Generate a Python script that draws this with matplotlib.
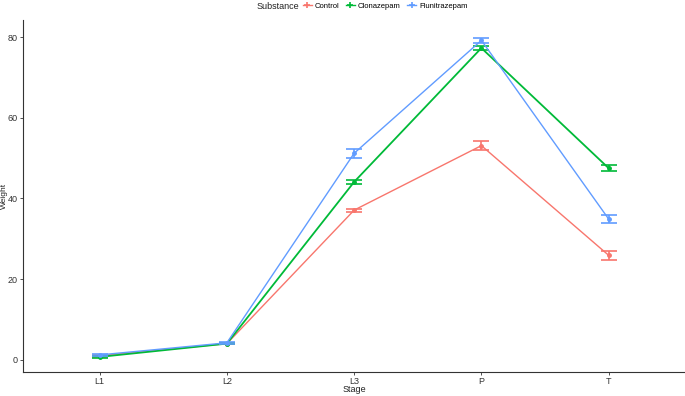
import matplotlib.pyplot as plt
from matplotlib.lines import Line2D
import numpy as np

plt.rcParams['font.family'] = ['Liberation Sans', 'DejaVu Sans']

stages = ['L1', 'L2', 'L3', 'P', 'T']
substances = ['Control', 'Clonazepam', 'Flunitrazepam']
colors = ['#F8766D', '#00BA38', '#619CFF']

control_mean = [1.0, 4.0, 37.1, 53.1, 25.9]
control_err = [0.2, 0.2, 0.4, 1.2, 1.1]
clonazepam_mean = [0.7, 4.0, 44.1, 77.3, 47.5]
clonazepam_err = [0.2, 0.2, 0.5, 0.6, 0.8]
fluni_mean = [1.2, 4.2, 51.2, 79.2, 34.9]
fluni_err = [0.3, 0.3, 1.1, 0.7, 1.1]

means = [control_mean, clonazepam_mean, fluni_mean]
errs = [control_err, clonazepam_err, fluni_err]

fig = plt.figure(figsize=(6.85, 3.96), dpi=100)
ax = fig.add_axes([0.034, 0.061, 0.966, 0.888])
x = np.arange(len(stages))

handles = []
for name, m, e, c in zip(substances, means, errs, colors):
    lw = 1.3 if name == 'Clonazepam' else 1.0
    ax.plot(x, m, color=c, lw=lw)
    ax.errorbar(x, m, yerr=e, fmt='none', ecolor=c, elinewidth=1.2,
                capsize=6, capthick=1.2)
    ax.plot(x, m, 'o', color=c, ms=2.5)
    handles.append(Line2D([], [], color=c, lw=1.0, marker='+', ms=4,
                          mew=1.2, label=name))

ax.set_xlim(-0.6, 4.6)
ax.set_ylim(-3, 84.2)
ax.set_xticks(x)
ax.set_xticklabels(stages)
ax.set_yticks([0, 20, 40, 60, 80])
for s in ['top', 'right']:
    ax.spines[s].set_visible(False)
for s in ['left', 'bottom']:
    ax.spines[s].set_color('#333333')
    ax.spines[s].set_linewidth(0.8)
ax.tick_params(colors='#333333', labelsize=6.5, length=2.5, width=0.6, pad=1.5)

# axis titles placed in figure pixels to fit the tight margins
fig.text(354 / 685, 1 - 390 / 396, 'Stage', fontsize=6.5, ha='center',
         va='center', color='#222222')
fig.text(4.5 / 685, 1 - 196 / 396, 'Weight', fontsize=6, ha='center',
         va='center', rotation=90, color='#222222')

fig.legend(handles=handles, loc='center left', bbox_to_anchor=(0.442, 0.984),
           ncol=3, frameon=False, fontsize=5.5, handlelength=1.2,
           columnspacing=0.8, handletextpad=0.4, borderpad=0, borderaxespad=0)
fig.text(257 / 685, 0.984, 'Substance', fontsize=6.5, va='center', ha='left',
         color='#222222')

fig.savefig('out.png', dpi=100)
